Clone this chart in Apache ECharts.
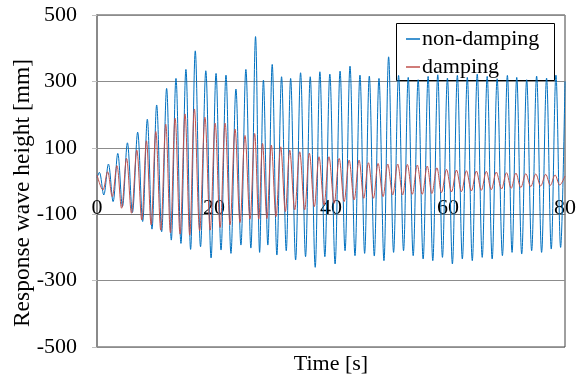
<!DOCTYPE html>
<html>
<head>
<meta charset="utf-8">
<script src="https://cdn.jsdelivr.net/npm/echarts@6/dist/echarts.min.js"></script>
<style>
html,body{margin:0;padding:0;background:#fff;}
#c{width:583px;height:379px;}
</style>
</head>
<body>
<div id="c"></div>
<script>
// ---- data ----
var seriesNames = ['non-damping', 'damping'];
var xTicks = [0, 20, 40, 60, 80];
var yTicks = [-500, -300, -100, 100, 300, 500];

// non-damping: start point, peaks and troughs (time [s], height [mm])
var blueStart = [0, 10];
var bluePeakT = [0.4,1.95,3.55,5.2,6.95,8.6,10.2,11.9,13.5,15.2,16.8,18.6,20.35,22.05,23.75,25.45,27.1,28.45,29.95,31.55,33.1,34.8,36.45,38.1,39.8,41.55,43.25,44.95,46.55,48.2,49.85,51.55,53.2,54.9,56.6,58.25,59.9,61.6,63.3,65.0,66.7,68.4,70.15,71.75,73.45,75.15,76.85,78.45,80];
var bluePeakV = [26,51,83,115,147,186,229,279,309,336,392,332,324,319,277,336,435,304,351,314,309,326,314,329,322,331,346,319,316,309,374,318,312,305,315,320,310,318,312,322,315,308,318,312,305,316,310,319,300];
var blueTroughT = [1.15,2.75,4.35,6.05,7.8,9.4,11.05,12.7,14.35,16.0,17.7,19.5,21.2,22.9,24.6,26.3,27.8,29.2,30.75,32.35,33.95,35.65,37.3,38.95,40.7,42.4,44.1,45.75,47.4,49.05,50.7,52.4,54.05,55.75,57.4,59.05,60.75,62.45,64.15,65.85,67.55,69.3,70.95,72.6,74.3,76.0,77.65,79.25];
var blueTroughV = [-42,-62,-77,-95,-122,-145,-153,-178,-188,-206,-198,-232,-208,-218,-193,-202,-215,-193,-223,-210,-238,-228,-260,-228,-250,-210,-225,-218,-226,-240,-215,-210,-225,-235,-240,-230,-250,-235,-240,-230,-235,-225,-215,-220,-210,-215,-205,-200];

// damping
var redStart = [0, 18];
var redPeakT = [1.8,3.4,5.05,6.8,8.45,10.05,11.75,13.35,15.05,16.65,18.45,20.2,21.9,23.6,25.3,26.95,28.3,29.8,31.4,32.95,34.65,36.3,37.95,39.65,41.4,43.1,44.8,46.4,48.05,49.7,51.4,53.05,54.75,56.45,58.1,59.75,61.45,63.15,64.85,66.55,68.25,70.0,71.6,73.3,75.0,76.7,78.3,80];
var redPeakV = [28,46,68,93,121,149,171,189,202,217,192,174,174,156,137,143,113,108,103,93,88,84,73,73,68,63,63,55,53,51,51,50,48,45,40,35,33,31,30,29,27,25,24,22,21,20,18,15];
var redTroughT = [1.0,2.6,4.2,5.9,7.65,9.25,10.9,12.55,14.2,15.85,17.55,19.35,21.05,22.75,24.45,26.15,27.65,29.05,30.6,32.2,33.8,35.5,37.15,38.8,40.55,42.25,43.95,45.6,47.25,48.9,50.55,52.25,53.9,55.6,57.25,58.9,60.6,62.3,64.0,65.7,67.4,69.15,70.8,72.45,74.15,75.85,77.5,79.1];
var redTroughV = [-27,-47,-82,-97,-117,-132,-148,-156,-160,-163,-150,-148,-140,-132,-125,-115,-115,-113,-107,-92,-87,-87,-77,-72,-67,-62,-57,-52,-52,-47,-42,-42,-40,-40,-38,-35,-33,-32,-30,-28,-26,-24,-22,-20,-17,-15,-13,-12];

function build(start, pt, pv, tt, tv) {
  var pts = [start];
  for (var i = 0; i < pt.length; i++) pts.push([pt[i], pv[i]]);
  for (var j = 0; j < tt.length; j++) pts.push([tt[j], tv[j]]);
  pts.sort(function (a, b) { return a[0] - b[0]; });
  return pts;
}

var FONT = '"Liberation Serif", "Times New Roman", serif';
var chart = echarts.init(document.getElementById('c'), null, {renderer: 'canvas'});
chart.setOption({
  animation: false,
  backgroundColor: '#fff',
  grid: {left: 97, right: 18, top: 15, bottom: 32, show: true, borderColor: '#404040', borderWidth: 1,
         backgroundColor: 'transparent', containLabel: false, outerBoundsMode: 'none'},
  graphic: [{
    type: 'rect', z: 3, silent: true,
    shape: {x: 396.5, y: 23.5, width: 158, height: 57},
    style: {fill: '#fff', stroke: '#000', lineWidth: 1}
  }],
  legend: {
    data: seriesNames.map(function (n) { return {name: n, icon: 'rect'}; }),
    orient: 'vertical', left: 397, top: 24, itemWidth: 14, itemHeight: 1.5, itemGap: 6,
    padding: [4, 10, 4, 9], z: 5,
    textStyle: {fontFamily: FONT, fontSize: 22, fontWeight: 'normal', color: '#000', padding: [0, 0, 0, -3]}
  },
  xAxis: {
    type: 'value', min: xTicks[0], max: xTicks[xTicks.length - 1], interval: 20,
    offset: -133,
    name: 'Time [s]', nameLocation: 'middle', nameGap: 139, nameMoveOverlap: false,
    nameTextStyle: {fontFamily: FONT, fontSize: 22, fontWeight: 'normal', color: '#000'},
    axisLine: {show: true, onZero: false, lineStyle: {color: '#6e6e6e', width: 1}},
    axisTick: {show: false},
    axisLabel: {inside: true, margin: -5, fontFamily: FONT, fontSize: 22, color: '#000'},
    splitLine: {show: false}
  },
  yAxis: {
    type: 'value', min: yTicks[0], max: yTicks[yTicks.length - 1], interval: 200,
    name: 'Response wave height [mm]', nameLocation: 'middle', nameGap: 62, nameMoveOverlap: false,
    nameTextStyle: {fontFamily: FONT, fontSize: 23.5, fontWeight: 'normal', color: '#000', padding: [0, 24, 0, 0]},
    axisLine: {show: true, lineStyle: {color: '#8a8a8a', width: 2}},
    axisTick: {show: true, length: 5, lineStyle: {color: '#c0c0c0'}},
    axisLabel: {margin: 20, fontFamily: FONT, fontSize: 22, color: '#000'},
    splitLine: {show: true, lineStyle: {color: '#8c8c8c', width: 1}}
  },
  series: [
    {name: seriesNames[0], type: 'line', data: build(blueStart, bluePeakT, bluePeakV, blueTroughT, blueTroughV),
     symbol: 'none', smooth: 0.35, lineStyle: {color: '#0070C0', width: 1}, itemStyle: {color: '#0070C0'}},
    {name: seriesNames[1], type: 'line', data: build(redStart, redPeakT, redPeakV, redTroughT, redTroughV),
     symbol: 'none', smooth: 0.35, lineStyle: {color: '#C0504D', width: 1}, itemStyle: {color: '#C0504D'}}
  ]
});
</script>
</body>
</html>
